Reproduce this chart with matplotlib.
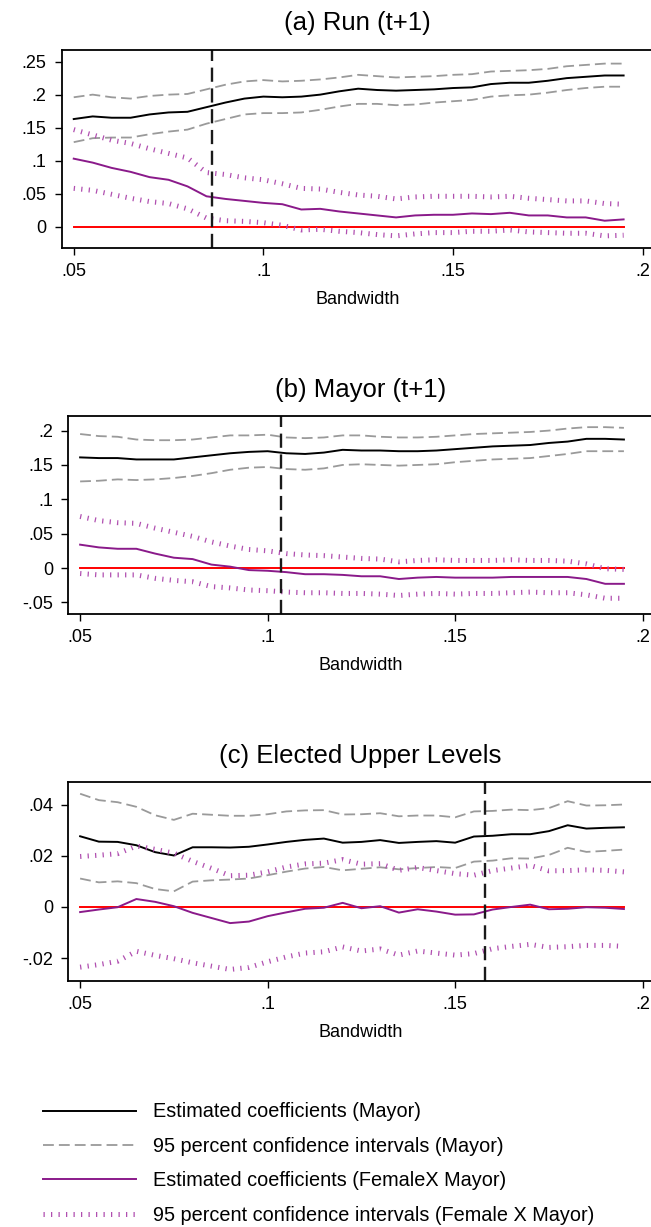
import matplotlib
matplotlib.use("Agg")
import matplotlib.pyplot as plt
from matplotlib.lines import Line2D

plt.rcParams['font.family'] = ['Liberation Sans', 'DejaVu Sans']

# bandwidths used in the robustness runs
bandwidth = [0.050, 0.055, 0.060, 0.065, 0.070, 0.075, 0.080, 0.085, 0.090, 0.095,
             0.100, 0.105, 0.110, 0.115, 0.120, 0.125, 0.130, 0.135, 0.140, 0.145,
             0.150, 0.155, 0.160, 0.165, 0.170, 0.175, 0.180, 0.185, 0.190, 0.195]

# (a) Run (t+1)
run_coef = [0.163, 0.167, 0.165, 0.165, 0.170, 0.173, 0.174, 0.181, 0.188, 0.194,
            0.197, 0.196, 0.197, 0.200, 0.205, 0.209, 0.207, 0.206, 0.207, 0.208,
            0.210, 0.211, 0.216, 0.218, 0.218, 0.221, 0.225, 0.227, 0.229, 0.229]
run_hi = [0.196, 0.200, 0.196, 0.194, 0.198, 0.200, 0.201, 0.208, 0.215, 0.220,
          0.222, 0.220, 0.221, 0.223, 0.226, 0.230, 0.228, 0.226, 0.227, 0.228,
          0.230, 0.231, 0.235, 0.236, 0.237, 0.239, 0.243, 0.245, 0.247, 0.247]
run_lo = [0.128, 0.134, 0.135, 0.135, 0.140, 0.144, 0.147, 0.156, 0.163, 0.170,
          0.172, 0.172, 0.173, 0.177, 0.182, 0.186, 0.186, 0.184, 0.185, 0.188,
          0.190, 0.192, 0.197, 0.199, 0.200, 0.203, 0.207, 0.210, 0.212, 0.212]
run_fem = [0.103, 0.097, 0.089, 0.083, 0.075, 0.071, 0.061, 0.046, 0.042, 0.039,
           0.036, 0.034, 0.026, 0.027, 0.023, 0.020, 0.017, 0.014, 0.017, 0.018,
           0.018, 0.020, 0.019, 0.021, 0.017, 0.017, 0.014, 0.014, 0.009, 0.011]
run_fem_hi = [0.147, 0.139, 0.131, 0.126, 0.118, 0.111, 0.104, 0.082, 0.079, 0.074,
              0.071, 0.065, 0.058, 0.057, 0.052, 0.048, 0.046, 0.042, 0.045, 0.046,
              0.046, 0.046, 0.045, 0.046, 0.043, 0.041, 0.039, 0.039, 0.035, 0.034]
run_fem_lo = [0.058, 0.055, 0.049, 0.043, 0.038, 0.035, 0.027, 0.013, 0.009, 0.008,
              0.006, 0.002, -0.005, -0.004, -0.007, -0.009, -0.012, -0.014, -0.011, -0.009,
              -0.009, -0.007, -0.007, -0.005, -0.008, -0.009, -0.010, -0.010, -0.014, -0.013]

# (b) Mayor (t+1)
mayor_coef = [0.161, 0.160, 0.160, 0.158, 0.158, 0.158, 0.161, 0.164, 0.167, 0.169,
              0.170, 0.167, 0.166, 0.168, 0.172, 0.171, 0.171, 0.170, 0.170, 0.171,
              0.173, 0.175, 0.177, 0.178, 0.179, 0.182, 0.184, 0.188, 0.188, 0.187]
mayor_hi = [0.195, 0.192, 0.191, 0.187, 0.186, 0.186, 0.187, 0.190, 0.193, 0.193,
            0.194, 0.190, 0.189, 0.190, 0.193, 0.193, 0.191, 0.190, 0.190, 0.191,
            0.193, 0.195, 0.196, 0.197, 0.198, 0.200, 0.203, 0.205, 0.205, 0.204]
mayor_lo = [0.126, 0.127, 0.129, 0.128, 0.129, 0.131, 0.134, 0.138, 0.143, 0.146,
            0.147, 0.144, 0.143, 0.145, 0.150, 0.151, 0.150, 0.149, 0.150, 0.151,
            0.154, 0.156, 0.158, 0.159, 0.160, 0.163, 0.166, 0.170, 0.170, 0.170]
mayor_fem = [0.034, 0.030, 0.028, 0.028, 0.021, 0.015, 0.013, 0.005, 0.002, -0.003,
             -0.004, -0.006, -0.009, -0.009, -0.010, -0.012, -0.012, -0.016, -0.014, -0.013,
             -0.014, -0.014, -0.014, -0.013, -0.013, -0.013, -0.013, -0.016, -0.023, -0.023]
mayor_fem_hi = [0.075, 0.069, 0.066, 0.065, 0.058, 0.052, 0.046, 0.038, 0.032, 0.027,
                0.025, 0.021, 0.019, 0.018, 0.016, 0.014, 0.013, 0.009, 0.011, 0.012,
                0.011, 0.011, 0.011, 0.012, 0.011, 0.011, 0.010, 0.006, -0.001, -0.002]
mayor_fem_lo = [-0.008, -0.010, -0.010, -0.010, -0.015, -0.018, -0.020, -0.027, -0.029, -0.032,
                -0.033, -0.035, -0.036, -0.036, -0.037, -0.037, -0.038, -0.040, -0.038, -0.037,
                -0.038, -0.037, -0.037, -0.036, -0.035, -0.036, -0.036, -0.039, -0.044, -0.044]

# (c) Elected Upper Levels
upper_coef = [0.0276, 0.0255, 0.0254, 0.0241, 0.0214, 0.0201, 0.0233, 0.0233, 0.0232, 0.0235,
              0.0244, 0.0254, 0.0262, 0.0267, 0.0251, 0.0254, 0.0261, 0.0250, 0.0254, 0.0257,
              0.0251, 0.0275, 0.0278, 0.0284, 0.0284, 0.0296, 0.0319, 0.0306, 0.0309, 0.0311]
upper_hi = [0.0442, 0.0417, 0.0409, 0.0391, 0.0358, 0.0340, 0.0364, 0.0360, 0.0356, 0.0356,
            0.0362, 0.0373, 0.0377, 0.0378, 0.0361, 0.0362, 0.0366, 0.0354, 0.0357, 0.0357,
            0.0350, 0.0373, 0.0375, 0.0380, 0.0378, 0.0386, 0.0413, 0.0396, 0.0397, 0.0400]
upper_lo = [0.0111, 0.0096, 0.0100, 0.0093, 0.0070, 0.0061, 0.0099, 0.0104, 0.0107, 0.0111,
            0.0124, 0.0138, 0.0150, 0.0156, 0.0143, 0.0149, 0.0155, 0.0147, 0.0152, 0.0156,
            0.0152, 0.0177, 0.0181, 0.0190, 0.0189, 0.0203, 0.0231, 0.0215, 0.0219, 0.0224]
upper_fem = [-0.0020, -0.0010, -0.0001, 0.0031, 0.0020, 0.0003, -0.0023, -0.0043, -0.0063, -0.0057,
             -0.0036, -0.0021, -0.0007, -0.0003, 0.0016, -0.0005, 0.0003, -0.0022, -0.0009, -0.0018,
             -0.0030, -0.0029, -0.0010, 0.0000, 0.0009, -0.0009, -0.0007, -0.0001, -0.0003, -0.0008]
upper_fem_hi = [0.0197, 0.0202, 0.0208, 0.0238, 0.0225, 0.0210, 0.0178, 0.0151, 0.0122, 0.0124,
                0.0137, 0.0156, 0.0168, 0.0171, 0.0185, 0.0167, 0.0169, 0.0143, 0.0154, 0.0142,
                0.0130, 0.0124, 0.0142, 0.0152, 0.0162, 0.0141, 0.0142, 0.0145, 0.0143, 0.0137]
upper_fem_lo = [-0.0235, -0.0225, -0.0212, -0.0173, -0.0189, -0.0202, -0.0218, -0.0231, -0.0244, -0.0236,
                -0.0214, -0.0195, -0.0180, -0.0175, -0.0156, -0.0172, -0.0164, -0.0188, -0.0172, -0.0180,
                -0.0188, -0.0182, -0.0163, -0.0154, -0.0146, -0.0158, -0.0155, -0.0150, -0.0150, -0.0154]

# optimal bandwidth markers
opt_bw = [0.0865, 0.1036, 0.158]

titles = ["(a) Run (t+1)", "(b) Mayor (t+1)", "(c) Elected Upper Levels"]
yticks = [[0, 0.05, 0.1, 0.15, 0.2, 0.25],
          [-0.05, 0, 0.05, 0.1, 0.15, 0.2],
          [-0.02, 0, 0.02, 0.04]]
yticklabels = [["0", ".05", ".1", ".15", ".2", ".25"],
               ["-.05", "0", ".05", ".1", ".15", ".2"],
               ["-.02", "0", ".02", ".04"]]
xticks = [0.05, 0.1, 0.15, 0.2]
xticklabels = [".05", ".1", ".15", ".2"]

panels = [
    (run_coef, run_hi, run_lo, run_fem, run_fem_hi, run_fem_lo),
    (mayor_coef, mayor_hi, mayor_lo, mayor_fem, mayor_fem_hi, mayor_fem_lo),
    (upper_coef, upper_hi, upper_lo, upper_fem, upper_fem_hi, upper_fem_lo),
]

BLACK = "#000000"
GRAY = "#9a9a9a"
PURPLE = "#8a1a8a"
PURPLE_CI = "#b04fb0"
RED = "#ff0000"

dash_ci = (0, (6, 2.8))
dot_ci = (0, (0.25, 1.25))

fig = plt.figure(figsize=(6.51, 12.27), dpi=100)

# [left, bottom, width, height] in figure fraction
rects = [[0.0952, 0.7979, 0.9070, 0.1614],
         [0.1052, 0.4996, 0.8970, 0.1614],
         [0.1052, 0.2005, 0.8970, 0.1622]]
ylims = [(-0.0323, 0.2677), (-0.0669, 0.2213), (-0.0289, 0.0488)]

for i, (coef, hi, lo, fem, fem_hi, fem_lo) in enumerate(panels):
    ax = fig.add_axes(rects[i])
    ax.plot(bandwidth, [0] * len(bandwidth), color=RED, lw=1.4, zorder=2)
    ax.plot(bandwidth, hi, color=GRAY, lw=1.3, linestyle=dash_ci)
    ax.plot(bandwidth, lo, color=GRAY, lw=1.3, linestyle=dash_ci)
    ax.plot(bandwidth, coef, color=BLACK, lw=1.4)
    ax.plot(bandwidth, fem_hi, color=PURPLE_CI, lw=3.6, linestyle=dot_ci)
    ax.plot(bandwidth, fem_lo, color=PURPLE_CI, lw=3.6, linestyle=dot_ci)
    ax.plot(bandwidth, fem, color=PURPLE, lw=1.4)
    ax.axvline(opt_bw[i], color="#1a1a1a", lw=1.7, linestyle=(0, (6, 2.8)))

    ax.set_xlim(0.0469, 0.2026)
    ax.set_ylim(*ylims[i])
    ax.set_xticks(xticks)
    ax.set_xticklabels(xticklabels)
    ax.set_yticks(yticks[i])
    ax.set_yticklabels(yticklabels[i])
    ax.tick_params(direction="out", length=5, width=1, labelsize=13, pad=6)
    for sp in ax.spines.values():
        sp.set_linewidth(1.3)
    ax.set_xlabel("Bandwidth", fontsize=13, labelpad=8)
    ax.set_title(titles[i], fontsize=18.5, pad=14)

handles = [
    Line2D([], [], color=BLACK, lw=1.4),
    Line2D([], [], color=GRAY, lw=1.3, linestyle=dash_ci),
    Line2D([], [], color=PURPLE, lw=1.4),
    Line2D([], [], color=PURPLE_CI, lw=3.6, linestyle=dot_ci),
]
labels = ["Estimated coefficients (Mayor)",
          "95 percent confidence intervals (Mayor)",
          "Estimated coefficients (FemaleX Mayor)",
          "95 percent confidence intervals (Female X Mayor)"]
fig.legend(handles, labels, loc="upper left", bbox_to_anchor=(0.066, 0.1015),
           frameon=False, fontsize=14.3, handlelength=4.7, handletextpad=0.85,
           labelspacing=0.78, borderpad=0, borderaxespad=0)

fig.savefig("out.png", dpi=100)
